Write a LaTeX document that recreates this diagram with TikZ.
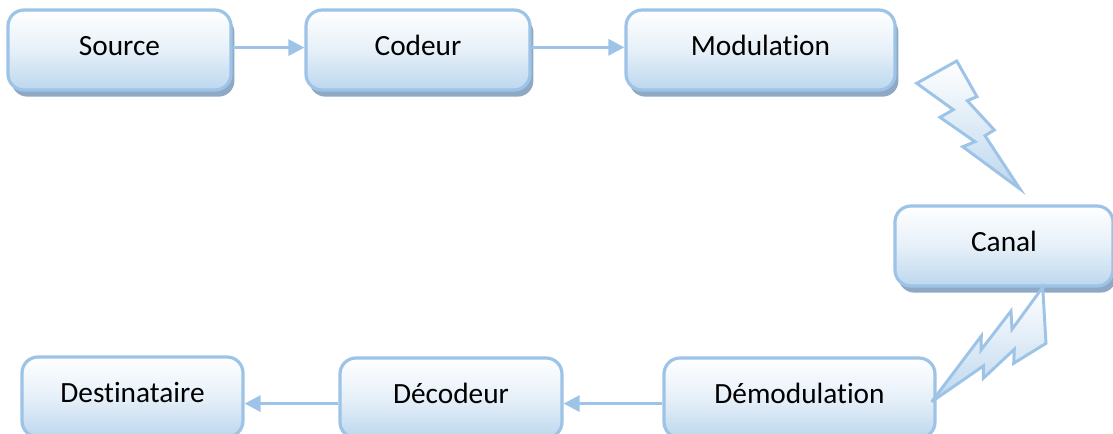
\documentclass[tikz,border=0pt]{standalone}
\usepackage{fontspec}
\setmainfont{Carlito}[Ligatures=NoCommon]
\usetikzlibrary{shadows,arrows.meta}
\definecolor{edgeblue}{HTML}{9DC3E6}
\definecolor{lowblue}{HTML}{BDD7EE}
\definecolor{shadowblue}{HTML}{8FA9C4}
\newcommand{\boxtext}[1]{\raisebox{6.5pt}{#1}}
\tikzset{
  x=0.75pt,y=-0.75pt,
  stagebox/.style={draw=edgeblue,line width=2.4pt,rounded corners=12pt,top color=white,bottom color=lowblue,middle color=lowblue!38!white,
    minimum width=#1*0.75pt,minimum height=60pt,inner sep=0pt,font=\fontsize{22}{26}\selectfont,text=black},
  shadowed/.style={drop shadow={shadow xshift=2.6pt,shadow yshift=-5pt,fill=shadowblue,opacity=1}},
  flow/.style={draw=edgeblue,line width=2.4pt,-{Triangle[length=12pt,width=12pt]}},
  bolt/.style={draw=edgeblue,line width=2.2pt,top color=white,bottom color=lowblue,miter limit=6},
}
\begin{document}
\begin{tikzpicture}
\clip (0,0) rectangle (1113,434);
\node[stagebox=223,shadowed] (src) at (119.5,50) {\boxtext{Source}};
\node[stagebox=224,shadowed] (cod) at (418,50) {\boxtext{Codeur}};
\node[stagebox=269,shadowed] (mod) at (760.5,50) {\boxtext{Modulation}};
\node[stagebox=218,shadowed] (can) at (1004,246) {\boxtext{Canal}};
\node[stagebox=271] (dem) at (799.5,398) {\boxtext{Démodulation}};
\node[stagebox=222] (dec) at (451,398) {\boxtext{Décodeur}};
\node[stagebox=221] (des) at (132.5,397) {\boxtext{Destinataire}};
\draw[flow] ([yshift=1.8pt]src.east) -- ([yshift=1.8pt]cod.west);
\draw[flow] ([yshift=2pt]cod.east) -- ([yshift=2pt]mod.west);
\draw[flow] ([yshift=-4.2pt]dem.west) -- ([yshift=-4.2pt]dec.east);
\draw[flow] ([yshift=-4.2pt]dec.west) -- ([yshift=-4.95pt]des.east);
\draw[bolt] (956.7,61) -- (977,96.7) -- (967.3,100.7) -- (994.3,130) -- (985,135.7) -- (1020,189) -- (962.7,146.7) -- (975,141.7) -- (940,117.3) -- (953.3,109.7) -- (916.7,83.3) -- cycle;
\draw[bolt] (1042.7,287.3) -- (1046,343.3) -- (1013.7,363.3) -- (1014.3,349.3) -- (983.3,378.3) -- (983.3,366) -- (931.7,401.7) -- (981.3,336) -- (981,350) -- (1011,311) -- (1012,329.3) -- cycle;
\end{tikzpicture}
\end{document}
